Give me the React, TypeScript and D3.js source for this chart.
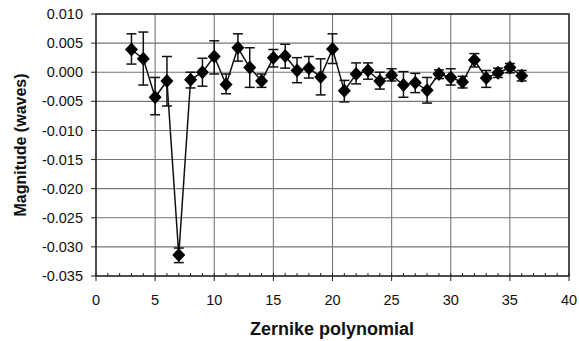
import * as d3 from "d3";
import React from "react";

// Zernike term index
const terms = [3, 4, 5, 6, 7, 8, 9, 10, 11, 12, 13, 14, 15, 16, 17, 18, 19, 20, 21, 22, 23, 24, 25, 26, 27, 28, 29, 30, 31, 32, 33, 34, 35, 36];
// magnitude (waves)
const magnitude = [0.0039, 0.0023, -0.0043, -0.0015, -0.0314, -0.0013, 0.0000, 0.0027, -0.0021, 0.0042, 0.0008, -0.0015, 0.0025, 0.0028, 0.0003, 0.0007, -0.0008, 0.0040, -0.0032, -0.0003, 0.0003, -0.0015, -0.0005, -0.0022, -0.0018, -0.0031, -0.0003, -0.0009, -0.0017, 0.0021, -0.0010, -0.0001, 0.0008, -0.0006];
const errHigh = [0.0066, 0.0069, -0.0009, 0.0027, -0.0302, 0.0000, 0.0024, 0.0054, -0.0003, 0.0066, 0.0042, -0.0003, 0.0039, 0.0048, 0.0025, 0.0027, 0.0023, 0.0066, -0.0014, 0.0016, 0.0016, 0.0000, 0.0006, 0.0001, -0.0002, -0.0009, 0.0004, 0.0006, -0.0007, 0.0032, 0.0003, 0.0007, 0.0015, 0.0003];
const errLow = [0.0014, -0.0022, -0.0073, -0.0058, -0.0327, -0.0027, -0.0024, -0.0003, -0.0037, 0.0019, -0.0026, -0.0026, 0.0009, 0.0007, -0.0018, -0.0010, -0.0039, 0.0015, -0.0051, -0.0020, -0.0012, -0.0029, -0.0015, -0.0043, -0.0035, -0.0053, -0.0011, -0.0022, -0.0027, 0.0009, -0.0026, -0.0009, -0.0001, -0.0015];

const xTicks = [0, 5, 10, 15, 20, 25, 30, 35, 40];
const yTicks = [0.01, 0.005, 0, -0.005, -0.01, -0.015, -0.02, -0.025, -0.03, -0.035];

export default function App() {
  const width = 579;
  const height = 341;
  const margin = { top: 14, right: 10, bottom: 65, left: 96 };

  const x = d3.scaleLinear().domain([0, 40]).range([margin.left, width - margin.right]);
  const y = d3.scaleLinear().domain([-0.035, 0.01]).range([height - margin.bottom, margin.top]);

  const line = d3.line<number>()
    .x((d, i) => x(terms[i]))
    .y(d => y(d));

  const minor = d3.range(0, 41);
  const font = "Arial, 'Liberation Sans', Helvetica, sans-serif";
  const x0 = x(0), x1 = x(40), yTop = y(0.01), yBot = y(-0.035);

  return (
    <svg width={width} height={height} style={{ position: "absolute", left: 0, top: 0 }}>
      <rect width={width} height={height} fill="#fff" />
      {/* gridlines */}
      {yTicks.map(t => (
        <line key={"gy" + t} x1={x0} x2={x1} y1={y(t)} y2={y(t)} stroke="#777" strokeWidth={1.1} />
      ))}
      {xTicks.map(t => (
        <line key={"gx" + t} x1={x(t)} x2={x(t)} y1={yTop} y2={yBot} stroke="#777" strokeWidth={1.1} />
      ))}
      {/* frame */}
      <rect x={x0} y={yTop} width={x1 - x0} height={yBot - yTop} fill="none" stroke="#222" strokeWidth={1.4} />
      {/* y ticks */}
      {yTicks.map(t => (
        <g key={"ty" + t}>
          <line x1={x0 - 5} x2={x0} y1={y(t)} y2={y(t)} stroke="#222" />
          <text x={x0 - 13} y={y(t)} dy="0.35em" textAnchor="end" fontFamily={font} fontSize={14.5} fill="#111">
            {d3.format(".3f")(t).replace("−", "-")}
          </text>
        </g>
      ))}
      {/* x ticks */}
      {minor.map(t => (
        <line key={"mx" + t} x1={x(t)} x2={x(t)} y1={yBot} y2={yBot - 3} stroke="#222" />
      ))}
      {xTicks.map(t => (
        <g key={"tx" + t}>
          <line x1={x(t)} x2={x(t)} y1={yBot} y2={yBot + 5} stroke="#222" />
          <text x={x(t)} y={yBot + 29} textAnchor="middle" fontFamily={font} fontSize={14.5} fill="#111">{t}</text>
        </g>
      ))}
      {/* connecting line */}
      <path d={line(magnitude) || ""} fill="none" stroke="#111" strokeWidth={1.5} />
      {/* error bars */}
      {terms.map((t, i) => (
        <g key={"e" + t} stroke="#111" strokeWidth={1.5}>
          <line x1={x(t)} x2={x(t)} y1={y(errHigh[i])} y2={y(errLow[i])} />
          <line x1={x(t) - 5} x2={x(t) + 5} y1={y(errHigh[i])} y2={y(errHigh[i])} />
          <line x1={x(t) - 5} x2={x(t) + 5} y1={y(errLow[i])} y2={y(errLow[i])} />
        </g>
      ))}
      {/* diamonds */}
      {terms.map((t, i) => (
        <path key={"d" + t} transform={`translate(${x(t)},${y(magnitude[i])})`} d="M0,-7L6.5,0L0,7L-6.5,0Z" fill="#000" />
      ))}
      {/* axis titles */}
      <text x={332} y={335} textAnchor="middle" fontFamily={font} fontWeight="bold" fontSize={18} fill="#111">
        Zernike polynomial
      </text>
      <text transform={`translate(26,${(yTop + yBot) / 2}) rotate(-90)`} textAnchor="middle" fontFamily={font} fontWeight="bold" fontSize={16} fill="#111">
        Magnitude (waves)
      </text>
    </svg>
  );
}
